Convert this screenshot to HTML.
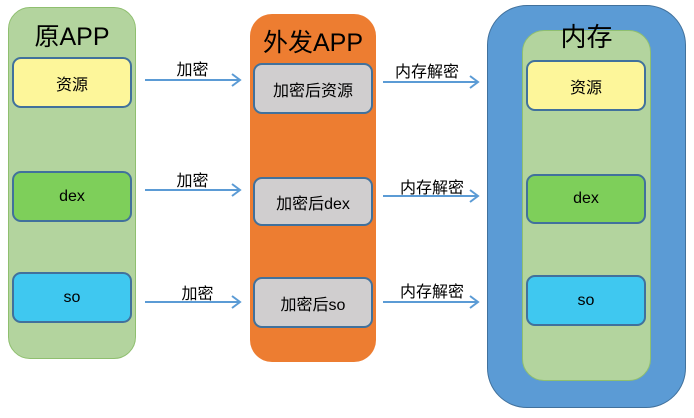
<!DOCTYPE html>
<html><head><meta charset="utf-8"><style>
body{margin:0;width:694px;height:418px;background:#fff;position:relative;overflow:hidden;font-family:"Liberation Sans","Noto Sans CJK SC",sans-serif;}
.a{position:absolute;box-sizing:border-box;}
.t{position:absolute;text-align:center;color:#000;}
.bx{position:absolute;box-sizing:border-box;border:2px solid #41719c;border-radius:9px;display:flex;align-items:center;justify-content:center;font-size:16px;color:#000;}
</style></head><body>
<div class="a" style="left:8px;top:7px;width:128px;height:352px;background:#b3d49e;border:1px solid #8fbf6f;border-radius:22px;"></div>
<div class="t" style="left:8px;top:17px;width:128px;font-size:25px;">原APP</div>
<div class="bx" style="left:12px;top:57px;width:120px;height:51px;background:#fdf69a;">资源</div>
<div class="bx" style="left:12px;top:171px;width:120px;height:51px;background:#7ecf5a;">dex</div>
<div class="bx" style="left:12px;top:272px;width:120px;height:51px;background:#3fc8f0;">so</div>

<div class="a" style="left:250px;top:14px;width:126px;height:348px;background:#ed7d31;border-radius:22px;"></div>
<div class="t" style="left:250px;top:23px;width:126px;font-size:25px;">外发APP</div>
<div class="bx" style="left:253px;top:63px;width:120px;height:51px;background:#d0cecf;">加密后资源</div>
<div class="bx" style="left:253px;top:177px;width:120px;height:49px;background:#d0cecf;">加密后dex</div>
<div class="bx" style="left:253px;top:277px;width:120px;height:51px;background:#d0cecf;">加密后so</div>

<div class="a" style="left:487px;top:5px;width:199px;height:403px;background:#5b9bd5;border:1px solid #41719c;border-radius:40px;"></div>
<div class="a" style="left:522px;top:30px;width:129px;height:351px;background:#b3d49e;border:1px solid #8fbf6f;border-radius:22px;"></div>
<div class="t" style="left:522px;top:17px;width:129px;font-size:26px;">内存</div>
<div class="bx" style="left:526px;top:60px;width:120px;height:51px;background:#fdf69a;">资源</div>
<div class="bx" style="left:526px;top:174px;width:120px;height:50px;background:#7ecf5a;">dex</div>
<div class="bx" style="left:526px;top:275px;width:120px;height:51px;background:#3fc8f0;">so</div>

<svg class="a" style="left:0;top:0" width="694" height="418">
<g stroke="#5b9bd5" stroke-width="2" fill="none">
<path d="M145 80H240M232 74L240 80L232 86"/>
<path d="M145 190H240M232 184L240 190L232 196"/>
<path d="M145 302H240M232 296L240 302L232 308"/>
<path d="M383 82H478M470 76L478 82L470 88"/>
<path d="M383 196H478M470 190L478 196L470 202"/>
<path d="M383 302H478M470 296L478 302L470 308"/>
</g></svg>
<div class="t" style="left:145px;top:56px;width:95px;font-size:16px;">加密</div>
<div class="t" style="left:145px;top:167px;width:95px;font-size:16px;">加密</div>
<div class="t" style="left:145px;top:280px;width:105px;font-size:16px;">加密</div>
<div class="t" style="left:378px;top:58px;width:98px;font-size:16px;">内存解密</div>
<div class="t" style="left:383px;top:174px;width:98px;font-size:16px;">内存解密</div>
<div class="t" style="left:383px;top:278px;width:98px;font-size:16px;">内存解密</div>
</body></html>
